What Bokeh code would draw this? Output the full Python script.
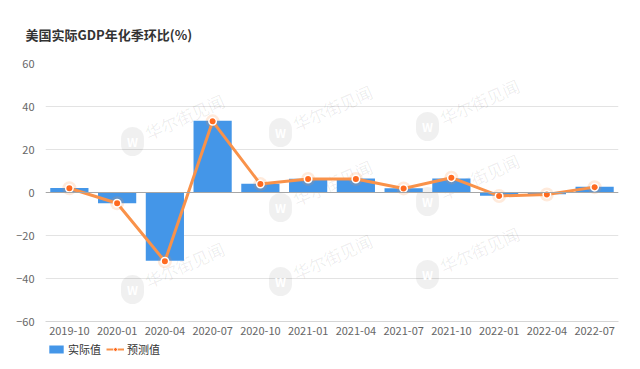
from bokeh.plotting import figure
from bokeh.layouts import column
from bokeh.models import (ColumnDataSource, FactorRange, Range1d, Span, Label,
                          Legend, LegendItem, FixedTicker)
from bokeh.embed import file_html
from bokeh.resources import INLINE

# ---- data ----
quarters = ['2019-10', '2020-01', '2020-04', '2020-07', '2020-10', '2021-01',
            '2021-04', '2021-07', '2021-10', '2022-01', '2022-04', '2022-07']
actual = [2.1, -5.0, -31.7, 33.4, 4.1, 6.4, 6.5, 2.0, 6.5, -1.5, -0.8, 2.7]
forecast = [2.0, -5.0, -32.0, 33.1, 3.9, 6.3, 6.3, 1.9, 6.9, -1.6, -0.9, 2.5]
y_ticks = [-60, -40, -20, 0, 20, 40, 60]
title_text = "美国实际GDP年化季环比(%)"
series_names = ["实际值", "预测值"]
watermark_text = "华尔街见闻"

# decoration (watermark) positions in screen px relative to plot frame bottom-left
wm_logos = [(87, 180), (87, 32), (235, 189), (235, 114), (235, 40),
            (382, 195), (382, 120), (382, 47)]

FONT = "Noto Sans CJK SC"
BAR = "#4496E8"
LINE = "#F9924A"
DOT = "#FF6A1F"

src = ColumnDataSource(dict(q=quarters, actual=actual, forecast=forecast))

p = figure(width=632, height=340, x_range=FactorRange(*quarters, range_padding=0),
           y_range=Range1d(-60, 60), output_backend="svg", toolbar_location=None,
           min_border_left=45, min_border_right=14, min_border_top=63,
           min_border_bottom=19, title=title_text)
p.outline_line_color = None
p.background_fill_color = "white"
p.border_fill_color = "white"

p.title.text_font = FONT
p.title.text_font_size = "13px"
p.title.text_font_style = "bold"
p.title.text_color = "#333333"
p.title.align = "left"
p.title.offset = -20
p.title.standoff = 40

# watermark
for (lx, ly) in wm_logos:
    p.add_layout(Label(x=lx, y=ly, x_units="screen", y_units="screen", text="W",
                       text_font=FONT, text_font_size="12px", text_font_style="bold",
                       text_color="white", text_align="center", text_baseline="middle",
                       background_fill_color="#000000", background_fill_alpha=0.06,
                       padding=6, border_radius=12, level="underlay"))
    p.add_layout(Label(x=lx + 52, y=ly + 25, x_units="screen", y_units="screen",
                       text=watermark_text, text_font=FONT, text_font_size="17px",
                       text_color="#000000", text_alpha=0.07, text_align="center",
                       text_baseline="middle", angle=24, angle_units="deg",
                       level="underlay"))

bars = p.vbar(x="q", top="actual", bottom=0, width=0.8, source=src,
              fill_color=BAR, line_color=None)
glow = p.scatter(x="q", y="forecast", size=14, source=src, fill_color="#FF8A3A",
                 fill_alpha=0.18, line_color=None)
line = p.line(x="q", y="forecast", source=src, line_color=LINE, line_width=3)
dots = p.scatter(x="q", y="forecast", size=7.5, source=src, fill_color=DOT,
                 line_color="white", line_width=1.5)

p.add_layout(Span(location=0, dimension="width", line_color="#A6A6A6", line_width=1))

# axes
p.yaxis.ticker = FixedTicker(ticks=y_ticks)
p.yaxis.axis_line_color = None
p.yaxis.major_tick_line_color = None
p.yaxis.minor_tick_line_color = None
p.yaxis.major_label_standoff = 5
p.yaxis.major_label_text_font = FONT
p.yaxis.major_label_text_font_size = "11px"
p.yaxis.major_label_text_color = "#666666"

p.xaxis.axis_line_color = "#D6D6D6"
p.xaxis.major_tick_line_color = None
p.xaxis.minor_tick_line_color = None
p.xaxis.major_label_standoff = -1
p.xaxis.major_label_text_font = FONT
p.xaxis.major_label_text_font_size = "11px"
p.xaxis.major_label_text_color = "#666666"

p.xgrid.grid_line_color = None
p.ygrid.grid_line_color = "#E3E3E3"
p.ygrid.grid_line_width = 1

# ---- legend strip (separate small figure) ----
lg = figure(width=632, height=28, x_range=Range1d(0, 1), y_range=Range1d(0, 1),
            output_backend="svg", toolbar_location=None,
            min_border_left=0, min_border_right=0, min_border_top=0,
            min_border_bottom=0)
lg.axis.visible = False
lg.grid.visible = False
lg.outline_line_color = None
# legend-swatch renderers: one point placed outside the visible range
dummy = ColumnDataSource(dict(x=[-10], y=[-10]))
lb = lg.vbar(x="x", top="y", bottom=-20, width=0.5, source=dummy,
             fill_color=BAR, line_color=None)
ll = lg.line(x="x", y="y", source=dummy, line_color=LINE, line_width=2)
ld = lg.scatter(x="x", y="y", size=10, source=dummy, fill_color=DOT,
                line_color="white", line_width=1)

legend = Legend(items=[LegendItem(label=series_names[0], renderers=[lb]),
                       LegendItem(label=series_names[1], renderers=[ll, ld])],
                location=(2, 11), orientation="horizontal",
                glyph_width=18, glyph_height=10, label_standoff=3, spacing=5,
                padding=0, margin=0, border_line_color=None,
                background_fill_alpha=0, label_text_font=FONT,
                label_text_font_size="11px", label_text_color="#333333",
                label_height=12)
lg.add_layout(legend, "center")

open("out.html", "w").write(file_html(column(p, lg, spacing=0), INLINE))
